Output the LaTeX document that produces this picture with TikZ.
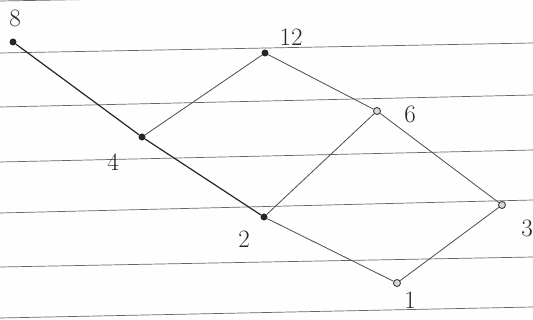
\documentclass[tikz,border=0pt]{standalone}
\begin{document}
\begin{tikzpicture}[x=1pt,y=-1pt,
  dotf/.style={circle,fill=black!85,inner sep=0pt,minimum size=7pt},
  doth/.style={circle,draw=black!75,fill=black!15,line width=0.9pt,inner sep=0pt,minimum size=7pt},
  edge/.style={draw=black!70,line width=0.8pt},
  thick edge/.style={draw=black!85,line width=1.2pt},
  lbl/.style={font=\fontsize{25}{27}\selectfont,text=black!85},
  rule/.style={draw=black!60,line width=0.7pt}]
\fill[white!93!blue!4] (0,0) rectangle (533,320);
\useasboundingbox (0,0) rectangle (533,320);
% ruled lines
\foreach \a/\b in {1/-8,53/43,107/95,162/150,213/200,267/257,318/307}
  \draw[rule] (0,\a) -- (533,\b);
% nodes
\node[dotf] (n8) at (13,42) {};
\node[dotf] (n12) at (265,53) {};
\node[dotf] (n4) at (142,137) {};
\node[doth] (n6) at (377,111) {};
\node[dotf] (n2) at (264,217) {};
\node[doth] (n3) at (502,205) {};
\node[doth] (n1) at (397,283) {};
% labels
\node[lbl] (l8) at (15,18) {8};
\node[lbl] (l12) at (291,37) {12};
\node[lbl] (l4) at (113,162) {4};
\node[lbl] (l6) at (410,114) {6};
\node[lbl] (l2) at (244,239) {2};
\node[lbl] (l3) at (527,228) {3};
\node[lbl] (l1) at (410,300) {1};
% edges
\draw[thick edge] (n8) -- (n4);
\draw[thick edge] (n4) -- (n2);
\draw[edge] (n4) -- (n12);
\draw[edge] (n12) -- (n6);
\draw[edge] (n6) -- (n2);
\draw[edge] (n6) -- (n3);
\draw[edge] (n2) -- (n1);
\draw[edge] (n1) -- (n3);
\end{tikzpicture}
\end{document}
